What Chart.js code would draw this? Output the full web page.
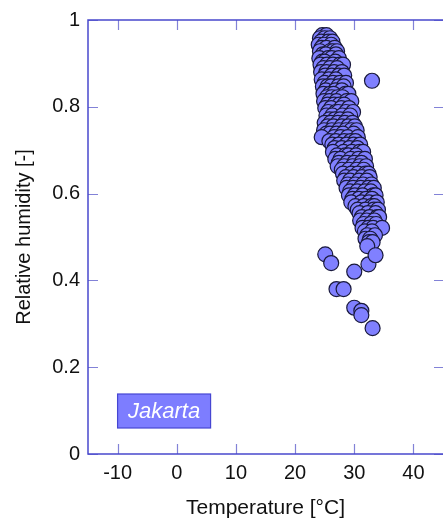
<!DOCTYPE html>
<html>
<head>
<meta charset="utf-8">
<script src="https://cdn.jsdelivr.net/npm/chart.js@4.4.1/dist/chart.umd.min.js"></script>
<style>
html,body{margin:0;padding:0;background:#fff;overflow:hidden;}
#wrap{width:443px;height:527px;}
</style>
</head>
<body>
<div id="wrap"><canvas id="c" width="443" height="527"></canvas></div>
<script>
// ---- Data ----
const cityLabel = "Jakarta";
const xTickValues = [-10, 0, 10, 20, 30, 40];
const yTickValues = [0, 0.2, 0.4, 0.6, 0.8, 1];

// Main cloud: relative humidity levels and temperatures observed at each level
const humidityLevels = [0.965,0.958,0.950,0.943,0.936,0.928,0.921,0.912,0.904,0.897,0.889,0.880,0.872,0.863,0.855,0.847,0.838,0.830,0.822,0.813,0.805,0.797,0.788,0.780,0.771,0.763,0.755,0.746,0.738,0.730,0.721,0.713,0.705,0.696,0.688,0.680,0.671,0.663,0.655,0.646,0.638,0.630,0.621,0.613,0.605,0.596,0.588,0.580,0.571,0.563,0.555,0.546,0.538,0.530,0.521,0.513,0.504,0.496,0.488,0.479];
const temperaturesAtLevel = [
 [24.6,25.3],
 [24.2,25.0,25.9],
 [24.4,25.6,26.3],
 [24.0,24.9,26.1],
 [24.5,25.3,26.7],
 [24.2,25.9,26.4,27.1],
 [24.7,25.2,26.9],
 [24.1,25.6,26.2,27.4],
 [24.6,25.0,26.8],
 [24.3,25.4,26.4,27.6,28.1],
 [24.8,25.9,27.1],
 [24.4,25.3,26.6,27.9],
 [25.1,26.2,27.4,28.3],
 [24.5,25.7,26.9],
 [25.0,26.4,27.6,28.6],
 [24.7,25.5,26.1,27.3,28.2],
 [25.2,26.8,27.9],
 [24.8,25.9,26.5,28.5,29.0],
 [25.4,26.2,27.2,28.0],
 [24.9,25.8,27.0,28.7,29.5],
 [25.5,26.6,27.5,28.3],
 [25.1,26.1,27.8,29.1],
 [25.6,26.9,27.3,28.6,29.8],
 [25.3,26.3,28.0,29.3],
 [25.8,26.7,27.6,28.9],
 [25.0,26.0,27.2,28.4,29.7],
 [25.5,26.5,27.9,29.0,30.1],
 [24.9,26.2,27.4,28.6,29.5,30.4],
 [25.3,25.9,27.0,28.1,29.9],
 [24.5,26.6,27.7,28.9,30.6],
 [25.8,26.9,28.3,29.4,30.2],
 [26.3,27.4,28.7,29.9,31.0],
 [26.7,27.9,29.2,30.5],
 [26.4,28.2,29.6,30.9,31.5],
 [27.1,28.5,29.0,30.3],
 [26.8,27.7,29.4,30.7,31.8],
 [27.4,28.8,30.0,31.2],
 [27.2,28.3,29.7,30.9,32.0],
 [27.9,29.1,30.4,31.6],
 [28.1,29.5,30.6,31.9,32.4],
 [28.6,29.9,31.3,32.6],
 [28.3,29.3,30.8,32.1],
 [28.9,30.2,31.5,32.9],
 [28.7,29.8,31.1,32.4,33.3],
 [29.3,30.5,31.8,32.8],
 [29.1,30.1,31.4,33.2,33.6],
 [29.7,30.8,32.0,33.0],
 [29.5,31.2,32.5,33.8],
 [30.2,31.6,32.9,33.4],
 [30.6,31.9,33.3,34.0],
 [30.9,32.3,33.6],
 [31.3,32.6,33.9,34.2],
 [31.0,32.1,33.4],
 [31.6,32.8,33.7],
 [31.4,32.4,33.2,34.7],
 [31.8,33.0],
 [32.2,33.5],
 [31.9,32.7],
 [32.5,33.1],
 [32.2]
];

// Isolated points
const outlierTemps    = [33.0, 25.1, 26.1, 30.0, 27.0, 28.2, 30.0, 31.2, 31.2, 33.1, 32.4, 33.6];
const outlierHumidity = [0.86, 0.46, 0.44, 0.42, 0.38, 0.38, 0.337, 0.33, 0.32, 0.29, 0.437, 0.458];

// ---- Build dataset from arrays ----
const points = [];
humidityLevels.forEach((rh, i) => {
  temperaturesAtLevel[i].forEach(t => points.push({x: t, y: rh}));
});
outlierTemps.forEach((t, i) => points.push({x: t, y: outlierHumidity[i]}));

const FONT = "'Liberation Sans', Arial, sans-serif";
const frameColor = 'rgb(72,72,205)';
const tickColor = 'rgb(130,130,215)';

const framePlugin = {
  id: 'frame',
  afterDatasetsDraw(chart) {
    const {ctx, chartArea: a, scales} = chart;
    ctx.save();
    ctx.strokeStyle = tickColor;
    ctx.lineWidth = 1.2;
    const L = 10;
    xTickValues.forEach(v => {
      const px = Math.round(scales.x.getPixelForValue(v)) + 0.5;
      ctx.beginPath();
      ctx.moveTo(px, a.bottom); ctx.lineTo(px, a.bottom - L);
      ctx.moveTo(px, a.top); ctx.lineTo(px, a.top + L);
      ctx.stroke();
    });
    yTickValues.forEach(v => {
      const py = Math.round(scales.y.getPixelForValue(v)) + 0.5;
      ctx.beginPath();
      ctx.moveTo(a.left, py); ctx.lineTo(a.left + L, py);
      ctx.moveTo(a.right + 1, py); ctx.lineTo(a.right - L + 1, py);
      ctx.stroke();
    });
    // frame: left, top, bottom (right edge falls outside the picture)
    ctx.strokeStyle = frameColor;
    ctx.lineWidth = 1.5;
    ctx.beginPath();
    ctx.moveTo(a.right + 2, a.top);
    ctx.lineTo(a.left, a.top);
    ctx.lineTo(a.left, a.bottom);
    ctx.lineTo(a.right + 2, a.bottom);
    ctx.stroke();

    const bx = scales.x.getPixelForValue(-10);
    const by = a.bottom - 60;
    const bw = 93, bh = 34;
    ctx.fillStyle = 'rgb(125,125,255)';
    ctx.fillRect(bx, by, bw, bh);
    ctx.strokeStyle = 'rgb(70,70,210)';
    ctx.lineWidth = 1.2;
    ctx.strokeRect(bx, by, bw, bh);
    ctx.fillStyle = '#ffffff';
    ctx.font = "italic 22px " + FONT;
    ctx.textAlign = 'center';
    ctx.textBaseline = 'middle';
    ctx.fillText(cityLabel, bx + bw / 2, by + bh / 2 + 1);
    ctx.restore();
  }
};

new Chart(document.getElementById('c'), {
  type: 'scatter',
  data: {
    datasets: [{
      data: points,
      backgroundColor: 'rgb(128,128,255)',
      borderColor: 'rgb(25,25,60)',
      borderWidth: 1.2,
      pointRadius: 7.5,
      pointHoverRadius: 7.5
    }]
  },
  options: {
    responsive: false,
    animation: false,
    layout: {autoPadding: false, padding: {top: 15, right: 0, left: 0, bottom: 0}},
    plugins: {legend: {display: false}, tooltip: {enabled: false}},
    scales: {
      x: {
        type: 'linear', min: -15, max: 45,
        afterBuildTicks: s => { s.ticks = xTickValues.map(v => ({value: v})); },
        afterFit: s => { s.height = 73; },
        grid: {display: false, drawTicks: false},
        border: {display: false},
        ticks: {color: '#111', font: {family: FONT, size: 20}, padding: 7, maxRotation: 0,
                callback: v => String(v)},
        title: {display: true, text: 'Temperature [°C]', color: '#111',
                font: {family: FONT, size: 21}, padding: {top: 0, bottom: 6}}
      },
      y: {
        type: 'linear', min: 0, max: 1,
        afterBuildTicks: s => { s.ticks = yTickValues.map(v => ({value: v})); },
        afterFit: s => { s.width = 88; },
        grid: {display: false, drawTicks: false},
        border: {display: false},
        ticks: {color: '#111', font: {family: FONT, size: 20}, padding: 8,
                callback: v => String(Math.round(v * 10) / 10)},
        title: {display: true, text: 'Relative humidity [-]', color: '#111',
                font: {family: FONT, size: 20}, padding: {top: 12, bottom: 0}}
      }
    }
  },
  plugins: [framePlugin]
});
</script>
</body>
</html>
